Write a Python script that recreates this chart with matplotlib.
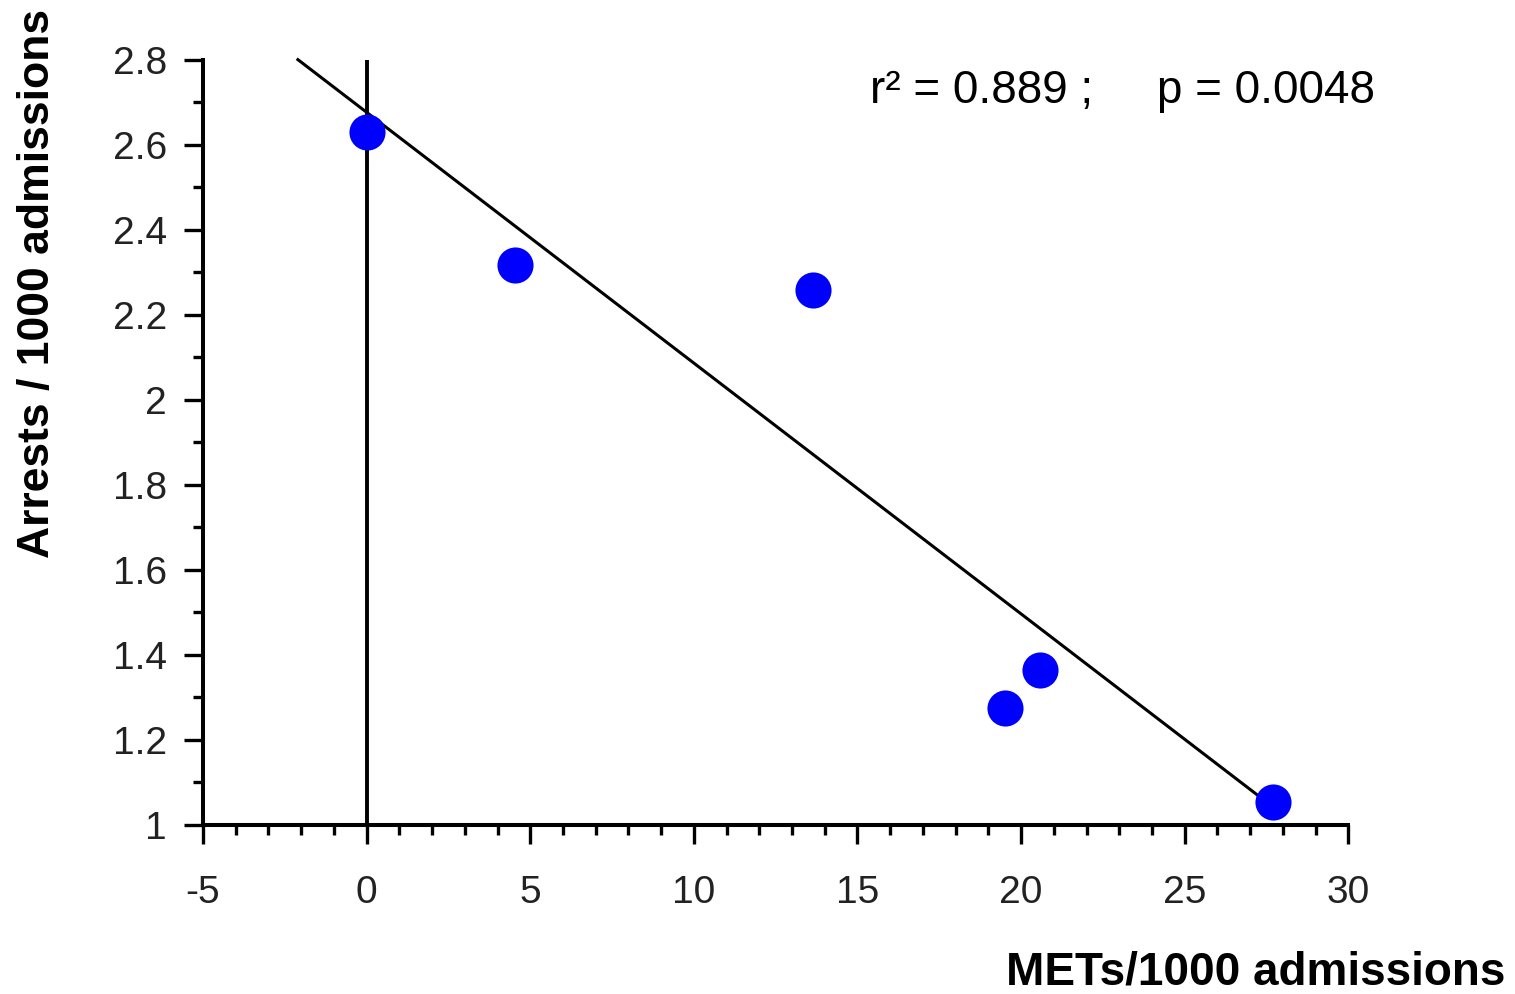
import numpy as np
import matplotlib.pyplot as plt
from matplotlib.ticker import MultipleLocator, FixedLocator

# data
mets = [0.0, 4.54, 13.65, 19.52, 20.59, 27.71]
arrests = [2.631, 2.318, 2.259, 1.275, 1.365, 1.054]
fit_x = [-2.1, 27.4]
fit_y = [2.80, 1.06]
x_ticks = [-5, 0, 5, 10, 15, 20, 25, 30]
x_labels = ["-5", "0", "5", "10", "15", "20", "25", "30"]
y_ticks = [1.0, 1.2, 1.4, 1.6, 1.8, 2.0, 2.2, 2.4, 2.6, 2.8]
y_labels = ["1", "1.2", "1.4", "1.6", "1.8", "2", "2.2", "2.4", "2.6", "2.8"]
stats_text = "r\u00b2 = 0.889 ;     p = 0.0048"

plt.rcParams['font.family'] = ['Liberation Sans', 'DejaVu Sans']

fig = plt.figure(figsize=(15.15, 9.94), dpi=100)
ax = fig.add_axes([0.134, 0.170, 0.756, 0.770])

ax.plot(fit_x, fit_y, color="black", lw=2.2, zorder=2, clip_on=False)
ax.axvline(0, color="black", lw=2.8, zorder=2)
ax.plot(mets, arrests, "o", color="#0000ff", markersize=26, mec="none",
        zorder=4, clip_on=False)

ax.set_xlim(-5, 30)
ax.set_ylim(1, 2.8)

for s in ["top", "right"]:
    ax.spines[s].set_visible(False)
for s in ["left", "bottom"]:
    ax.spines[s].set_linewidth(2.9)
    ax.spines[s].set_zorder(3)

ax.xaxis.set_major_locator(FixedLocator(x_ticks))
ax.set_xticklabels(x_labels)
ax.xaxis.set_minor_locator(MultipleLocator(1))
ax.yaxis.set_major_locator(FixedLocator(y_ticks))
ax.set_yticklabels(y_labels)
ax.yaxis.set_minor_locator(MultipleLocator(0.1))

ax.tick_params(axis="both", which="major", length=14, width=2.4,
               labelsize=28, labelcolor="#222222")
ax.tick_params(axis="both", which="minor", length=7, width=2.4)
ax.tick_params(axis="x", which="major", pad=22)
ax.tick_params(axis="y", which="major", pad=12)

fig.text(0.0245, 0.715, "Arrests / 1000 admissions", rotation=90,
         fontsize=32, fontweight="bold", ha="center", va="center")
fig.text(0.9935, 0.010, "METs/1000 admissions", fontsize=33,
         fontweight="bold", ha="right", va="baseline")
fig.text(0.574, 0.908, stats_text, fontsize=33, ha="left", va="center")

fig.savefig("out.png", dpi=100)
